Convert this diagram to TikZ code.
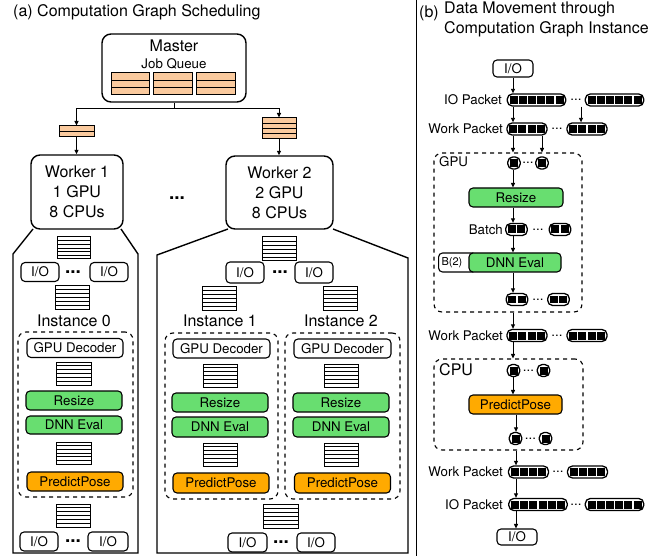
\documentclass[tikz,border=0pt]{standalone}
\usepackage{fontspec}
\setmainfont{TeX Gyre Heros}
\usetikzlibrary{arrows.meta,calc}

\definecolor{peach}{RGB}{250,202,158}
\definecolor{evalgreen}{RGB}{104,222,112}
\definecolor{poseorange}{RGB}{255,170,0}

\newcommand\fbig{\fontsize{16}{20}\selectfont}
\newcommand\fmid{\fontsize{13.3}{16}\selectfont}
\newcommand\fsmall{\fontsize{11}{13}\selectfont}
\newcommand\fdots{\fontsize{19}{20}\selectfont\bfseries}

% black cells inside a packet
\newcommand\pkcell{\rule{8pt}{8pt}}
\newcommand\pkgap{\hspace{1.2pt}}
\newcommand\pkone{\pkcell}
\newcommand\pktwo{\pkcell\pkgap\pkcell}
\newcommand\pkfour{\pkcell\pkgap\pkcell\pkgap\pkcell\pkgap\pkcell}
\newcommand\pksix{\pkcell\pkgap\pkcell\pkgap\pkcell\pkgap\pkcell\pkgap\pkcell\pkgap\pkcell}

\tikzset{
  txt/.style={inner sep=0pt, font=\fbig},
  lbl/.style={inner sep=0pt, font=\fmid},
  dotsA/.style={inner sep=0pt, font=\fdots},
  dotsB/.style={inner sep=0pt, font=\fmid},
  box/.style={draw, line width=1.1pt, rounded corners=4pt, fill=white,
    inner sep=0pt, font=\fmid, minimum height=19pt},
  gbox/.style={box, fill=evalgreen, minimum width=96pt},
  obox/.style={box, fill=poseorange, minimum width=96pt},
  iobox/.style={box, minimum width=38pt},
  wbox/.style={draw, line width=1.4pt, rounded corners=9pt, fill=white,
    align=center, font=\fbig, inner sep=0pt},
  dbox/.style={draw, dash pattern=on 4pt off 4pt, line width=1.1pt,
    rounded corners=8pt, inner sep=0pt},
  stack/.style={draw, line width=1pt, fill=white, inner sep=0pt,
    minimum width=34pt, minimum height=23pt,
    path picture={
      \pgfmathtruncatemacro\nlines{#1-1}
      \foreach \k in {1,...,\nlines}{
        \draw[line width=0.9pt]
          ($(path picture bounding box.south west)!{\k/#1}!(path picture bounding box.north west)$) --
          ($(path picture bounding box.south east)!{\k/#1}!(path picture bounding box.north east)$);
      }}},
  jstack/.style={stack=#1, fill=peach},
  pkt/.style={draw, line width=1.3pt, rounded corners=5pt, fill=white,
    inner xsep=2.2pt, inner ysep=2pt},
  arr/.style={line width=0.9pt, -{Triangle[length=4.5pt,width=4pt]}},
  house/.style={line width=1.4pt},
}

\begin{document}
\begin{tikzpicture}[x=1pt,y=-1pt]
\useasboundingbox (0,0) rectangle (659,556);

% ---------------- (a) Computation Graph Scheduling ----------------
\node[txt, anchor=west] (titleA) at (13,12) {(a) Computation Graph Scheduling};

% master with its job queue
\node[wbox, minimum width=144pt, minimum height=68pt] (master) at (174,68) {};
\node[txt] (mastertxt) at (174,46) {Master};
\node[lbl] (jqtxt) at (174,64) {Job Queue};
\node[jstack=3, minimum width=38pt, minimum height=22pt] (jq1) at (130,84) {};
\node[jstack=3, minimum width=39pt, minimum height=22pt] (jq2) at (172.5,84) {};
\node[jstack=3, minimum width=39pt, minimum height=22pt] (jq3) at (215.5,84) {};

% jobs handed to the workers
\node[jstack=2, minimum width=35pt, minimum height=11pt] (q1) at (76.5,131.5) {};
\node[jstack=4, minimum width=34pt, minimum height=21pt] (q2) at (279,128.5) {};

% worker housings
\draw[house] (33,229) -- (13,254) -- (13,553) -- (138,553) -- (138,254) -- (121,229);
\draw[house] (228,229) -- (157,255) -- (157,553) -- (408,553) -- (408,258) -- (333,229);

\node[wbox, minimum width=92pt, minimum height=74pt] (w1) at (77,192) {Worker 1\\1 GPU\\8 CPUs};
\node[wbox, minimum width=107pt, minimum height=73pt] (w2) at (279.5,192.5) {Worker 2\\2 GPU\\8 CPUs};
\node[dotsA] (wdots) at (177,198) {...};

\draw[line width=1pt] (master.south) -- ++(0,6) coordinate (split);
\draw[arr] (split) -| (q1.north);
\draw[arr] (split) -| (q2.north);
\draw[arr] (q1.south) -- (q1.south |- w1.north);
\draw[arr] (q2.south) -- (q2.south |- w2.north);

% worker 1 internals
\node[stack=6, minimum width=33pt, minimum height=22pt] (g1a) at (73.5,248) {};
\node[iobox] (io1a) at (40,272) {I/O};
\node[iobox] (io1b) at (109,272) {I/O};
\node[dotsA] (d1a) at (73,272) {...};
\node[stack=6] (g1b) at (72,297.5) {};
\node[txt] (inst0) at (74,321) {Instance 0};
\node[dbox, minimum width=115pt, minimum height=165pt] (dd0) at (75.5,414.5) {};
\node[box, minimum width=96pt] (gpu0) at (75,348) {GPU Decoder};
\node[stack=6, minimum width=35pt] (g1c) at (73.5,373.5) {};
\node[gbox] (rs0) at (74,400.5) {Resize};
\node[gbox, minimum height=18pt] (dnn0) at (74,425) {DNN Eval};
\node[stack=6, minimum width=35pt, minimum height=22pt] (g1d) at (73.5,453) {};
\node[obox] (pp0) at (75,481.5) {PredictPose};
\node[stack=6] (g1e) at (73,515.5) {};
\node[iobox] (io1c) at (39,541.5) {I/O};
\node[iobox, minimum width=40pt] (io1d) at (108,541.5) {I/O};
\node[dotsA] (d1b) at (73,541) {...};

% worker 2 internals
\node[stack=6, minimum height=24pt] (g2a) at (279,249) {};
\node[iobox, minimum height=21pt] (io2a) at (245,272.5) {I/O};
\node[iobox, minimum height=21pt] (io2b) at (314,272.5) {I/O};
\node[dotsA] (d2a) at (280,272) {...};
\node[stack=6] (g2b) at (219,298.5) {};
\node[stack=6] (g2c) at (340,298.5) {};
\node[txt] (inst1) at (220,321) {Instance 1};
\node[txt] (inst2) at (341,321) {Instance 2};
\node[dbox, minimum width=113pt, minimum height=166pt] (dd1) at (221.5,416) {};
\node[dbox, minimum width=115pt, minimum height=166pt] (dd2) at (342.5,416) {};
\node[box, minimum width=97pt] (gpu1) at (221.5,348.5) {GPU Decoder};
\node[box, minimum width=97pt] (gpu2) at (342.5,348.5) {GPU Decoder};
\node[stack=6] (g2d) at (220,375.5) {};
\node[stack=6] (g2e) at (341,375.5) {};
\node[gbox] (rs1) at (220,402.5) {Resize};
\node[gbox] (rs2) at (341,402.5) {Resize};
\node[gbox, minimum height=20pt] (dnn1) at (220,427) {DNN Eval};
\node[gbox, minimum height=20pt] (dnn2) at (341,427) {DNN Eval};
\node[stack=6] (g2f) at (220,454.5) {};
\node[stack=6] (g2g) at (341,454.5) {};
\node[obox, minimum height=20pt] (pp1) at (221,483) {PredictPose};
\node[obox, minimum height=20pt] (pp2) at (342.5,483) {PredictPose};
\node[stack=6, minimum width=35pt, minimum height=24pt] (g2h) at (280.5,516) {};
\node[iobox, minimum width=39pt] (io2c) at (247.5,542.5) {I/O};
\node[iobox] (io2d) at (316,542.5) {I/O};
\node[dotsA] (d2b) at (281,542) {...};

% separator between the two panels
\draw[line width=1pt] (416,0) -- (416,556);

% ---------------- (b) Data Movement ----------------
\node[txt, anchor=west] (titleB) at (419,13) {(b)};
\node[txt, anchor=north west, align=left] (titleB2) at (444,2)
  {Data Movement through\\Computation Graph Instance};

\coordinate (xa) at (513,0);
\coordinate (xb) at (516,0);

\node[iobox, minimum width=40pt, minimum height=17pt] (iotop) at (513,68.5) {I/O};

\node[lbl, anchor=east] (lIO1) at (502,100) {IO Packet};
\node[pkt] (iop1) at (536.5,100) {\pksix};
\node[pkt] (iop2) at (614.5,100) {\pksix};
\node[dotsB] (dIO1) at (576,100) {...};

\node[lbl, anchor=east] (lWP1) at (503,129) {Work Packet};
\node[pkt] (wp1) at (527,129) {\pkfour};
\node[pkt] (wp2) at (587,129) {\pkfour};
\node[dotsB] (dWP1) at (557,129) {...};

% GPU stage
\node[dbox, minimum width=148pt, minimum height=159pt] (gpu) at (508,232.5) {};
\node[lbl, anchor=west] (lGPU) at (439,162) {GPU};
\node[pkt] (sp1) at (514,163) {\pkone};
\node[pkt] (sp2) at (542,163) {\pkone};
\node[dotsB] (dsp1) at (528,163) {...};
\node[gbox, minimum width=94pt] (rsb) at (516,197.5) {Resize};
\node[lbl, anchor=east] (lBatch) at (503,229.5) {Batch};
\node[pkt] (bt1) at (516.5,229.5) {\pktwo};
\node[pkt] (bt2) at (560,229.5) {\pktwo};
\node[dotsB] (dbt1) at (538,229.5) {...};
\node[box, anchor=west, text width=38pt, align=left, font=\fsmall] (b2) at (438,262.5) {\hspace*{3pt}B(2)};
\node[gbox, minimum width=92pt] (dnnb) at (515,262.5) {DNN Eval};
\node[pkt] (bt3) at (517,299.5) {\pktwo};
\node[pkt] (bt4) at (558.5,299.5) {\pktwo};
\node[dotsB] (dbt2) at (538,299.5) {...};

\node[lbl, anchor=east] (lWP2) at (503,335.5) {Work Packet};
\node[pkt] (wp3) at (527,335.5) {\pkfour};
\node[pkt] (wp4) at (587,335.5) {\pkfour};
\node[dotsB] (dWP2) at (557,335.5) {...};

% CPU stage
\node[dbox, minimum width=149pt, minimum height=91pt] (cpu) at (508.5,404.5) {};
\node[txt, anchor=west] (lCPU) at (439,370) {CPU};
\node[pkt] (sp3) at (513.5,370.5) {\pkone};
\node[pkt] (sp4) at (543.5,370.5) {\pkone};
\node[dotsB] (dsp2) at (528.5,370.5) {...};
\node[obox, minimum width=93pt] (ppb) at (515.5,404.5) {PredictPose};
\node[pkt] (sp5) at (515.5,438.5) {\pkone};
\node[pkt] (sp6) at (545.5,438.5) {\pkone};
\node[dotsB] (dsp3) at (530.5,438.5) {...};

\node[lbl, anchor=east] (lWP3) at (503,472) {Work Packet};
\node[pkt] (wp5) at (528.5,472) {\pkfour};
\node[pkt] (wp6) at (587.5,472) {\pkfour};
\node[dotsB] (dWP3) at (558,472) {...};

\node[lbl, anchor=east] (lIO2) at (503,504.5) {IO Packet};
\node[pkt] (iop3) at (538,504.5) {\pksix};
\node[pkt] (iop4) at (614.5,504.5) {\pksix};
\node[dotsB] (dIO2) at (576,504.5) {...};

\node[iobox, minimum width=40pt, minimum height=16pt] (iobot) at (517,537) {I/O};

% data flow arrows
\coordinate (wp2in) at ($(wp2.north)+(-6,0)$);
\draw[arr] (iotop.south) -- (xa |- iop1.north);
\draw[arr] (xa |- iop1.south) -- (xa |- wp1.north);
\draw[arr] (wp2in |- iop2.south) -- (wp2in);
\draw[arr] (xa |- wp1.south) -- (xa |- gpu.north);
\draw[arr] (sp2.north |- wp1.south) -- (sp2.north |- gpu.north);
\draw[arr] (xa |- sp1.south) -- (xa |- rsb.north);
\draw[arr] (xa |- rsb.south) -- (xa |- bt1.north);
\draw[arr] (xa |- bt1.south) -- (xa |- dnnb.north);
\draw[arr] (xa |- dnnb.south) -- (xa |- bt3.north);
\draw[arr] (xa |- gpu.south) -- (xa |- wp3.north);
\draw[arr] (xa |- wp3.south) -- (xa |- cpu.north);
\draw[arr] (xa |- sp3.south) -- (xa |- ppb.north);
\draw[arr] (xb |- ppb.south) -- (xb |- sp5.north);
\draw[arr] (xb |- cpu.south) -- (xb |- wp5.north);
\draw[arr] (xb |- wp5.south) -- (xb |- iop3.north);
\draw[arr] (xb |- iop3.south) -- (xb |- iobot.north);
\end{tikzpicture}
\end{document}
